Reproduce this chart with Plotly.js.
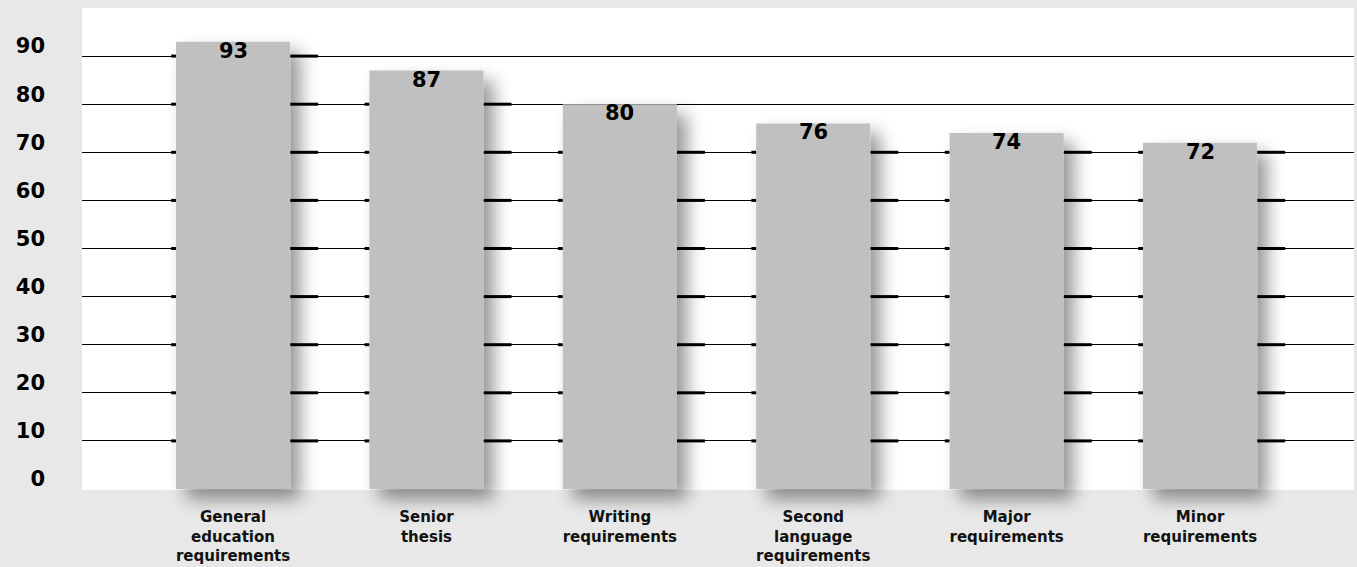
<!DOCTYPE html>
<html>
<head>
<meta charset="utf-8">
<script src="https://cdn.plot.ly/plotly-3.0.1.min.js"></script>
<style>
  html, body { margin: 0; padding: 0; background: #e8e8e8; }
  #chart { width: 1357px; height: 567px; }
  .bars .point path { filter: url(#barShadow); }
  #chart .cartesianlayer g[clip-path],
  #chart .cartesianlayer path[clip-path] { clip-path: none !important; }
</style>
</head>
<body>
<svg width="0" height="0" style="position:absolute">
  <defs>
    <filter id="barShadow" x="-50%" y="-30%" width="220%" height="180%">
      <feGaussianBlur in="SourceAlpha" stdDeviation="9"/>
      <feOffset dx="10" dy="10" result="off"/>
      <feComponentTransfer><feFuncA type="linear" slope="0.42"/></feComponentTransfer>
      <feMerge><feMergeNode/><feMergeNode in="SourceGraphic"/></feMerge>
    </filter>
  </defs>
</svg>
<div id="chart"></div>
<script>
const categories = [
  "General<br>education<br>requirements",
  "Senior<br>thesis",
  "Writing<br>requirements",
  "Second<br>language<br>requirements",
  "Major<br>requirements",
  "Minor<br>requirements"
];
const values = [93, 87, 80, 76, 74, 72];
const yTicks = [0, 10, 20, 30, 40, 50, 60, 70, 80, 90];

const trace = {
  type: "bar",
  x: categories.map((c, i) => i),
  y: values,
  cliponaxis: false,
  marker: { color: "#c0c0c0", line: { width: 0 } },
  hoverinfo: "skip"
};

// thicker gridline segments in the shadow zone beside each bar (decoration)
const shapes = [];
values.forEach((v, i) => {
  yTicks.filter(t => t > 0 && t < v).forEach(t => {
    shapes.push({ type: "line", xref: "x", yref: "y", x0: i + 0.295, x1: i + 0.44, y0: t, y1: t,
      line: { color: "#000", width: 3 }, layer: "below" });
    shapes.push({ type: "line", xref: "x", yref: "y", x0: i - 0.32, x1: i - 0.295, y0: t, y1: t,
      line: { color: "#000", width: 3 }, layer: "below" });
  });
});

const annotations = values.map((v, i) => ({
  x: i, y: v, xref: "x", yref: "y",
  text: String(v), showarrow: false,
  yanchor: "middle", yshift: -9,
  font: { family: "DejaVu Sans", size: 21, color: "#000", weight: "bold" }
}));

const layout = {
  width: 1357,
  height: 567,
  margin: { l: 82, r: 3, t: 8, b: 78 },
  paper_bgcolor: "#e8e8e8",
  plot_bgcolor: "#ffffff",
  bargap: 0.41,
  showlegend: false,
  shapes: shapes,
  annotations: annotations,
  xaxis: {
    range: [-0.781, 5.796],
    tickvals: categories.map((c, i) => i),
    ticktext: categories,
    showgrid: false,
    zeroline: false,
    showline: false,
    ticks: "",
    tickfont: { family: "DejaVu Sans", size: 15, color: "#111", weight: "bold" },
    ticklabelstandoff: 17
  },
  yaxis: {
    range: [0, 100],
    tickvals: yTicks,
    ticktext: yTicks.map(String),
    showgrid: true,
    gridcolor: "#000000",
    gridwidth: 1,
    zeroline: true,
    zerolinecolor: "#ffffff",
    zerolinewidth: 1,
    showline: false,
    ticks: "",
    ticklabelstandoff: 36,
    ticklabelshift: -10,
    tickfont: { family: "DejaVu Sans", size: 21, color: "#000", weight: "bold" }
  }
};

Plotly.newPlot("chart", [trace], layout, { staticPlot: true, displayModeBar: false });
</script>
</body>
</html>
